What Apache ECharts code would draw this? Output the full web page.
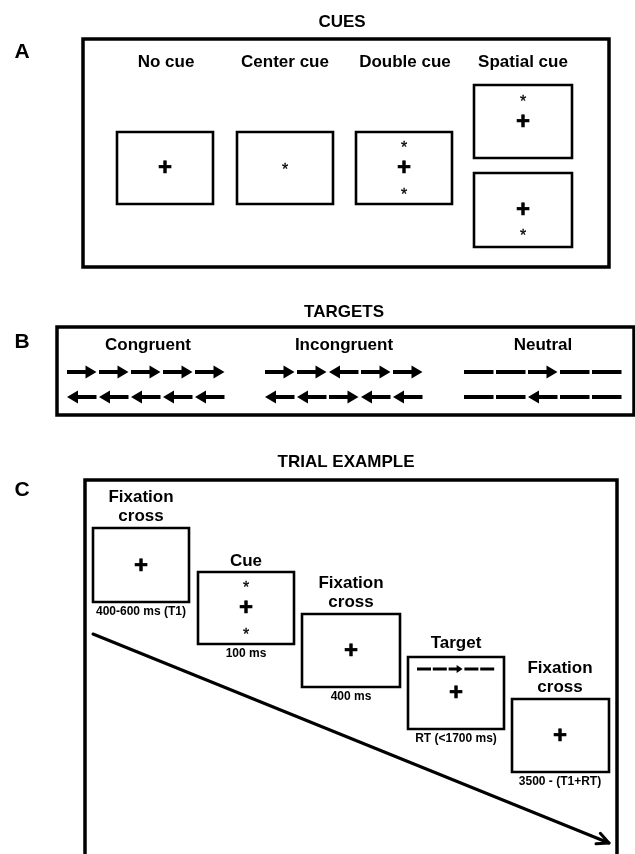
<!DOCTYPE html>
<html>
<head>
<meta charset="utf-8">
<script src="https://cdn.jsdelivr.net/npm/echarts@6/dist/echarts.min.js"></script>
<style>
  html, body { margin: 0; padding: 0; background: #fff; }
  #chart { width: 635px; height: 854px; }
</style>
</head>
<body>
<div id="chart"></div>
<script>
// ---------- diagram data (diagram units = picture units) ----------
const panelLetters = ['A', 'B', 'C'];
const panelLetterPos = [[22, 52], [22, 342], [22, 490]];
const sectionTitles = ['CUES', 'TARGETS', 'TRIAL EXAMPLE'];
const sectionTitlePos = [[342, 22], [344, 312], [346, 462]];
const panelFrames = [[83, 39, 609, 267], [57, 327, 634, 415], [85, 480, 617, 880]];

// A: cues
const cueNames = ['No cue', 'Center cue', 'Double cue', 'Spatial cue'];
const cueNamePos = [[166, 62], [285, 62], [405, 62], [523, 62]];
const cueBoxes = [[117, 132, 213, 204], [237, 132, 333, 204], [356, 132, 452, 204], [474, 85, 572, 158], [474, 173, 572, 247]];
const cueCrosses = [[165, 168], [404, 168], [523, 122], [523, 210]];
const cueStars = [[285, 167], [404, 145], [404, 192], [523, 99], [523, 233]];

// B: targets
const targetNames = ['Congruent', 'Incongruent', 'Neutral'];
const targetNamePos = [[148, 345], [344, 345], [543, 345]];
const flankerStarts = [67, 265, 464];
const flankerRowY = [372, 397];
const flankerPatterns = [['>>>>>', '<<<<<'], ['>><>>', '<<><<'], ['-->--', '--<--']];

// C: trial example
const trialTitles = ['Fixation\ncross', 'Cue', 'Fixation\ncross', 'Target', 'Fixation\ncross'];
const trialTitlePos = [[141, 507], [246, 561], [351, 593], [456, 643], [560, 678]];
const trialBoxes = [[93, 528, 189, 602], [198, 572, 294, 644], [302, 614, 400, 687], [408, 657, 504, 729], [512, 699, 609, 772]];
const trialCaptions = ['400-600 ms (T1)', '100 ms', '400 ms', 'RT (<1700 ms)', '3500 - (T1+RT)'];
const trialCaptionPos = [[141, 612], [246, 654], [351, 697], [456, 739], [560, 782]];
const trialCrosses = [[141, 566], [246, 608], [351, 651], [456, 693], [560, 736]];
const trialStars = [[246, 585], [246, 632]];
const trialFlankerStart = [417];
const trialFlankerY = [669];
const trialFlankerPattern = ['-->--'];
const timeArrow = [[93, 634, 609, 843]];

// ---------- rendering helpers ----------
const FONT = '"Liberation Sans", Arial, Helvetica, sans-serif';

function textSeries(labels, positions, font, extra) {
  extra = extra || {};
  return {
    type: 'custom', coordinateSystem: 'cartesian2d', silent: true, clip: false,
    data: positions,
    renderItem: function (params, api) {
      const p = api.coord([api.value(0), api.value(1)]);
      const style = {
        text: labels[params.dataIndex], font: font, fill: '#000',
        align: 'center', verticalAlign: 'middle',
        lineHeight: extra.lineHeight
      };
      if (extra.stroke) { style.stroke = '#000'; style.lineWidth = extra.stroke; }
      return { type: 'text', x: p[0], y: p[1] + (extra.dy || 0), style: style };
    }
  };
}

function rectSeries(rects, lineWidth) {
  return {
    type: 'custom', coordinateSystem: 'cartesian2d', silent: true, clip: false,
    data: rects,
    encode: { x: [0, 2], y: [1, 3] },
    renderItem: function (params, api) {
      const a = api.coord([api.value(0), api.value(1)]);
      const b = api.coord([api.value(2), api.value(3)]);
      return {
        type: 'rect',
        shape: { x: a[0], y: a[1], width: b[0] - a[0], height: b[1] - a[1] },
        style: { fill: null, stroke: '#000', lineWidth: lineWidth }
      };
    }
  };
}

function flankerSeries(items, pats, cfg) {
  return {
    type: 'custom', coordinateSystem: 'cartesian2d', silent: true, clip: false,
    data: items,
    renderItem: function (params, api) {
      const x0 = api.value(0), y = api.value(1);
      const pat = pats[params.dataIndex];
      const children = [];
      const t = cfg.thick, h = cfg.head, hh = cfg.half;
      for (let i = 0; i < pat.length; i++) {
        const a = api.coord([x0 + i * cfg.period, y]);
        const b = api.coord([x0 + i * cfg.period + cfg.len, y]);
        const ch = pat[i];
        const st = { fill: '#000' };
        if (ch === '-') {
          children.push({ type: 'rect', shape: { x: a[0], y: a[1] - t / 2, width: b[0] - a[0], height: t }, style: st });
        } else if (ch === '>') {
          children.push({ type: 'rect', shape: { x: a[0], y: a[1] - t / 2, width: b[0] - a[0] - h + 1, height: t }, style: st });
          children.push({ type: 'polygon', shape: { points: [[b[0] - h, a[1] - hh], [b[0], a[1]], [b[0] - h, a[1] + hh]] }, style: st });
        } else {
          children.push({ type: 'rect', shape: { x: a[0] + h - 1, y: a[1] - t / 2, width: b[0] - a[0] - h + 1, height: t }, style: st });
          children.push({ type: 'polygon', shape: { points: [[a[0] + h, a[1] - hh], [a[0], a[1]], [a[0] + h, a[1] + hh]] }, style: st });
        }
      }
      return { type: 'group', children: children };
    }
  };
}

// flatten flanker rows
const flankerItems = [], flankerPats = [];
flankerStarts.forEach(function (sx, g) {
  flankerRowY.forEach(function (ry, r) {
    flankerItems.push([sx, ry]);
    flankerPats.push(flankerPatterns[g][r]);
  });
});

const arrowSeries = {
  type: 'custom', coordinateSystem: 'cartesian2d', silent: true, clip: false,
  data: timeArrow,
  encode: { x: [0, 2], y: [1, 3] },
  renderItem: function (params, api) {
    const a = api.coord([api.value(0), api.value(1)]);
    const b = api.coord([api.value(2), api.value(3)]);
    const ang = Math.atan2(b[1] - a[1], b[0] - a[0]);
    const L = 13, spread = 0.45;
    const p1 = [b[0] - L * Math.cos(ang - spread), b[1] - L * Math.sin(ang - spread)];
    const p2 = [b[0] - L * Math.cos(ang + spread), b[1] - L * Math.sin(ang + spread)];
    const st = { stroke: '#000', lineWidth: 3, fill: null, lineCap: 'round', lineJoin: 'round' };
    return {
      type: 'group', children: [
        { type: 'line', shape: { x1: a[0], y1: a[1], x2: b[0], y2: b[1] }, style: st },
        { type: 'polyline', shape: { points: [p1, b, p2] }, style: st }
      ]
    };
  }
};

const bold17 = 'bold 17px ' + FONT;
const starFont = '16px ' + FONT;
const plusFont = 'bold 24px ' + FONT;

const chart = echarts.init(document.getElementById('chart'), null, { renderer: 'canvas' });
chart.setOption({
  backgroundColor: '#fff',
  animation: false,
  grid: { left: 0, right: 0, top: 0, bottom: 0, containLabel: false },
  xAxis: { type: 'value', min: 0, max: 635, show: false },
  yAxis: { type: 'value', min: 0, max: 854, inverse: true, show: false },
  series: [
    rectSeries(panelFrames, 3.5),
    rectSeries(cueBoxes, 2.6),
    rectSeries(trialBoxes, 2.6),
    textSeries(panelLetters, panelLetterPos, 'bold 21px ' + FONT),
    textSeries(sectionTitles, sectionTitlePos, bold17),
    textSeries(cueNames, cueNamePos, bold17),
    textSeries(targetNames, targetNamePos, bold17),
    textSeries(trialTitles, trialTitlePos, bold17, { lineHeight: 19 }),
    textSeries(trialCaptions, trialCaptionPos, 'bold 12px ' + FONT),
    textSeries(cueCrosses.map(function () { return '+'; }), cueCrosses, plusFont, { stroke: 0.6 }),
    textSeries(trialCrosses.map(function () { return '+'; }), trialCrosses, plusFont, { stroke: 0.6 }),
    textSeries(cueStars.map(function () { return '*'; }), cueStars, starFont, { dy: 3.5, stroke: 0.3 }),
    textSeries(trialStars.map(function () { return '*'; }), trialStars, starFont, { dy: 3.5, stroke: 0.3 }),
    flankerSeries(flankerItems, flankerPats, { period: 32, len: 29.5, thick: 4, head: 11, half: 6.5 }),
    flankerSeries(trialFlankerStart.map(function (sx, i) { return [sx, trialFlankerY[i]]; }), trialFlankerPattern,
      { period: 15.8, len: 14, thick: 3, head: 6, half: 4 }),
    arrowSeries
  ]
});
</script>
</body>
</html>
